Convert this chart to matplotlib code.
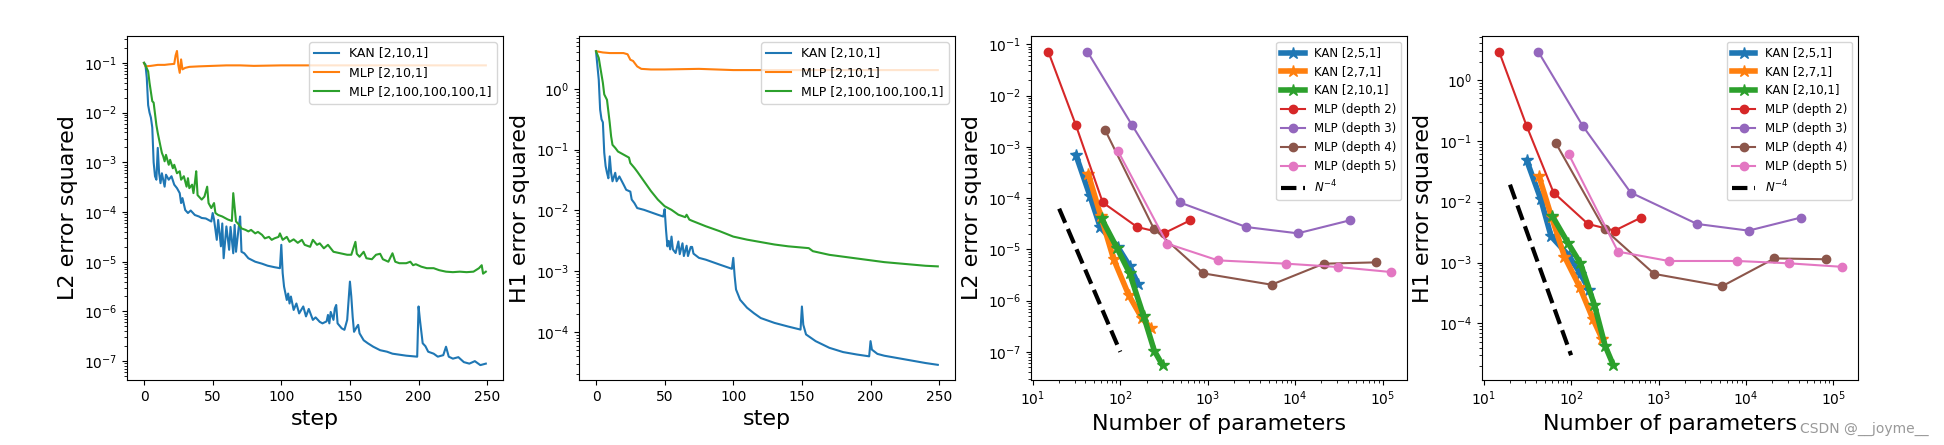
import numpy as np
import matplotlib
matplotlib.use("Agg")
import matplotlib.pyplot as plt

# ---- panel 1: L2 error vs step (values read as log10) ----
kan_l2_steps = [0, 1, 2, 3, 4, 5, 6, 7, 8, 9, 10, 11, 12, 13, 15, 16, 18, 20, 22, 24, 26, 27, 28, 30,
                32, 34, 37, 40, 42, 45, 47, 49, 50, 51, 53, 54, 56, 57, 58, 60, 62, 63, 65, 66, 67, 69,
                70, 71, 73, 76, 81, 86, 90, 95, 99, 100, 101, 102, 104, 105, 106, 107, 109, 111, 113,
                116, 118, 120, 123, 125, 128, 130, 133, 134, 135, 136, 138, 139, 140, 141, 144, 146,
                148, 150, 151, 152, 153, 155, 156, 157, 160, 163, 167, 172, 177, 181, 186, 191, 195,
                199, 200, 201, 203, 205, 207, 211, 214, 218, 220, 222, 225, 229, 233, 237, 241, 245, 249]
kan_l2_log = [-1.0, -1.03, -1.3, -1.85, -2.0, -2.1, -2.3, -3.0, -3.28, -3.35, -2.71, -3.22, -3.42, -3.22,
              -3.49, -3.25, -3.35, -3.28, -3.45, -3.52, -3.62, -3.82, -3.72, -3.96, -4.02, -3.97, -4.06,
              -4.09, -4.12, -4.13, -4.16, -4.19, -4.02, -4.15, -4.56, -4.16, -4.69, -4.23, -4.93, -4.29,
              -4.76, -4.3, -4.83, -4.26, -4.8, -4.3, -4.09, -4.8, -4.83, -4.93, -5.0, -5.04, -5.08,
              -5.11, -5.13, -4.66, -5.23, -5.5, -5.77, -5.64, -5.84, -5.7, -5.97, -5.84, -6.04, -5.9,
              -6.1, -5.95, -6.17, -6.12, -6.21, -6.24, -6.2, -6.07, -6.24, -6.01, -6.17, -5.94, -5.87,
              -6.24, -6.34, -6.37, -6.17, -5.40, -5.7, -6.11, -6.41, -6.31, -6.27, -6.44, -6.58, -6.64,
              -6.71, -6.78, -6.81, -6.85, -6.87, -6.89, -6.9, -6.91, -5.9, -6.17, -6.64, -6.7, -6.81,
              -6.85, -6.91, -6.88, -6.71, -6.91, -6.95, -6.92, -7.02, -7.05, -7.0, -7.08, -7.05]

mlp_small_l2_steps = [0, 1, 5, 10, 15, 18, 22, 23, 24, 25, 26, 27, 28, 30, 33, 40, 50, 60, 70, 80,
                      100, 125, 150, 175, 200, 225, 249]
mlp_small_l2_log = [-1.0, -1.07, -1.06, -1.04, -1.04, -1.03, -1.02, -0.85, -0.76, -1.05, -1.2, -0.93,
                    -1.13, -1.1, -1.08, -1.07, -1.06, -1.05, -1.05, -1.06, -1.05, -1.05, -1.05, -1.05,
                    -1.05, -1.05, -1.05]

mlp_big_l2_steps = [0, 1, 3, 4, 6, 7, 9, 10, 12, 13, 14, 15, 16, 18, 19, 21, 22, 24, 26, 27, 29, 31,
                    32, 33, 35, 36, 37, 38, 39, 40, 42, 44, 46, 47, 49, 51, 52, 54, 57, 59, 61, 64, 65,
                    67, 69, 71, 74, 76, 78, 81, 83, 86, 88, 91, 93, 95, 98, 99, 101, 104, 106, 109,
                    112, 115, 117, 121, 123, 126, 128, 131, 134, 138, 143, 148, 151, 154, 155, 157,
                    160, 162, 166, 169, 172, 174, 178, 181, 183, 186, 191, 194, 196, 198, 202, 206,
                    211, 215, 220, 225, 230, 235, 240, 244, 246, 247, 249]
mlp_big_l2_log = [-1.0, -1.05, -1.17, -1.4, -1.77, -1.8, -2.25, -2.41, -2.68, -2.81, -2.88, -2.98,
                  -2.85, -3.05, -2.95, -3.12, -3.05, -3.22, -3.18, -3.35, -3.28, -3.49, -3.32, -3.52,
                  -3.45, -3.62, -3.42, -3.18, -3.66, -3.69, -3.75, -3.69, -3.49, -3.82, -3.92, -3.82,
                  -4.02, -4.06, -4.09, -4.12, -4.15, -4.18, -3.62, -4.19, -4.25, -4.33, -4.36, -4.39,
                  -4.36, -4.43, -4.4, -4.46, -4.53, -4.5, -4.56, -4.53, -4.5, -4.43, -4.56, -4.5,
                  -4.6, -4.55, -4.62, -4.56, -4.66, -4.7, -4.56, -4.66, -4.63, -4.73, -4.66, -4.8,
                  -4.83, -4.86, -4.86, -4.6, -4.84, -4.9, -4.8, -4.93, -4.95, -4.86, -4.84, -4.95,
                  -5.0, -4.83, -5.0, -5.03, -5.03, -5.0, -5.07, -5.05, -5.1, -5.13, -5.13, -5.17,
                  -5.2, -5.21, -5.2, -5.21, -5.2, -5.13, -5.07, -5.24, -5.2]

# ---- panel 2: H1 error vs step (log10) ----
kan_h1_steps = [0, 2, 3, 4, 5, 6, 7, 8, 9, 10, 11, 12, 14, 15, 17, 20, 22, 25, 26, 28, 30, 35, 40,
                45, 49, 50, 51, 52, 53, 54, 55, 56, 58, 60, 61, 63, 64, 66, 67, 69, 70, 71, 75, 80,
                90, 99, 100, 101, 102, 105, 110, 115, 120, 130, 140, 149, 150, 151, 153, 160, 170,
                180, 190, 199, 200, 201, 205, 210, 220, 230, 240, 249]
kan_h1_log = [0.62, 0.15, -0.34, -0.5, -0.55, -1.05, -1.27, -1.38, -1.47, -1.11, -1.38, -1.52, -1.38,
              -1.52, -1.44, -1.57, -1.66, -1.69, -1.82, -1.88, -1.96, -1.99, -2.03, -2.07, -2.10,
              -1.98, -2.32, -2.59, -2.5, -2.64, -2.43, -2.64, -2.70, -2.51, -2.72, -2.54, -2.75,
              -2.58, -2.75, -2.6, -2.6, -2.71, -2.78, -2.81, -2.89, -2.96, -2.78, -3.08, -3.3,
              -3.47, -3.6, -3.69, -3.77, -3.85, -3.91, -3.96, -3.58, -3.88, -4.04, -4.15, -4.26,
              -4.33, -4.37, -4.4, -4.15, -4.29, -4.36, -4.39, -4.43, -4.47, -4.51, -4.54]

mlp_small_h1_steps = [0, 5, 10, 20, 23, 25, 27, 30, 33, 40, 50, 75, 100, 150, 200, 249]
mlp_small_h1_log = [0.62, 0.6, 0.59, 0.59, 0.57, 0.48, 0.46, 0.37, 0.33, 0.32, 0.32, 0.33, 0.31,
                    0.31, 0.31, 0.31]

mlp_big_h1_steps = [0, 2, 3, 5, 6, 8, 9, 10, 11, 12, 14, 16, 20, 24, 25, 28, 30, 35, 40, 45, 50, 55,
                    60, 65, 66, 68, 70, 80, 90, 100, 110, 120, 130, 140, 150, 155, 158, 160, 170,
                    180, 190, 200, 210, 220, 230, 240, 249]
mlp_big_h1_log = [0.62, 0.51, 0.37, 0.10, -0.09, -0.18, -0.37, -0.56, -0.78, -0.92, -0.97, -1.03,
                  -1.08, -1.13, -1.22, -1.30, -1.36, -1.52, -1.68, -1.82, -1.93, -1.99, -2.07, -2.11,
                  -2.07, -2.15, -2.17, -2.26, -2.34, -2.43, -2.48, -2.52, -2.56, -2.59, -2.61, -2.62,
                  -2.67, -2.68, -2.73, -2.76, -2.79, -2.82, -2.85, -2.87, -2.89, -2.91, -2.92]

# ---- panels 3 & 4: error vs number of parameters ----
kan_labels = ["KAN [2,5,1]", "KAN [2,7,1]", "KAN [2,10,1]"]
kan_params = [[31, 45, 59, 94, 128, 160],
              [43, 60, 84, 125, 177, 226],
              [61, 92, 128, 185, 245, 304]]
kan_l2 = [[7.0e-4, 1.1e-4, 2.7e-5, 1.1e-5, 4.7e-6, 2.1e-6],
          [2.95e-4, 4.4e-5, 6.4e-6, 1.28e-6, 4.5e-7, 2.86e-7],
          [4.0e-5, 1.05e-5, 3.4e-6, 5.0e-7, 1.05e-7, 5.5e-8]]
kan_h1 = [[4.8e-2, 1.1e-2, 2.7e-3, 1.3e-3, 6.5e-4, 3.6e-4],
          [2.6e-2, 5.5e-3, 1.25e-3, 4.0e-4, 1.2e-4, 5.6e-5],
          [5.8e-3, 2.1e-3, 9.7e-4, 2.0e-4, 4.3e-5, 2.06e-5]]

mlp_labels = ["MLP (depth 2)", "MLP (depth 3)", "MLP (depth 4)", "MLP (depth 5)"]
mlp_params = [[15, 31, 63, 156, 315, 630],
              [42, 136, 480, 2760, 10700, 42100],
              [67, 242, 893, 5370, 21200, 83200],
              [94, 344, 1310, 7960, 31200, 125600]]
mlp_l2 = [[0.072, 2.66e-3, 8.2e-5, 2.72e-5, 2.05e-5, 3.67e-5],
          [0.072, 2.66e-3, 8.2e-5, 2.72e-5, 2.05e-5, 3.67e-5],
          [2.13e-3, 2.52e-5, 3.39e-6, 2.04e-6, 5.24e-6, 5.56e-6],
          [8.28e-4, 1.29e-5, 6.08e-6, 5.24e-6, 4.51e-6, 3.6e-6]]
mlp_h1 = [[2.92, 0.175, 0.0141, 4.3e-3, 3.34e-3, 5.46e-3],
          [2.92, 0.175, 0.0141, 4.3e-3, 3.34e-3, 5.46e-3],
          [0.091, 3.5e-3, 6.5e-4, 4.1e-4, 1.17e-3, 1.13e-3],
          [0.060, 1.51e-3, 1.06e-3, 1.06e-3, 9.7e-4, 8.5e-4]]

ref_x = [20, 100]
ref_l2 = [6.2e-5, 1.0e-7]
ref_h1 = [1.9e-2, 3.0e-5]

TICK = 10
LAB = 16

fig = plt.figure(figsize=(19.44, 4.45), dpi=100)
bottom, height, width = 0.146, 0.773, 0.1934
ax1 = fig.add_axes([0.0653, bottom, width, height])
ax2 = fig.add_axes([0.2978, bottom, width, height])
ax3 = fig.add_axes([0.5304, bottom, width, height])
ax4 = fig.add_axes([0.7623, bottom, width, height])

# step curves
for ax, kx, ky, sx, sy, bx, by, ylab in [
        (ax1, kan_l2_steps, kan_l2_log, mlp_small_l2_steps, mlp_small_l2_log,
         mlp_big_l2_steps, mlp_big_l2_log, "L2 error squared"),
        (ax2, kan_h1_steps, kan_h1_log, mlp_small_h1_steps, mlp_small_h1_log,
         mlp_big_h1_steps, mlp_big_h1_log, "H1 error squared")]:
    ax.plot(kx, 10 ** np.array(ky), color="C0", lw=1.5, label="KAN [2,10,1]")
    ax.plot(sx, 10 ** np.array(sy), color="C1", lw=1.5, label="MLP [2,10,1]")
    ax.plot(bx, 10 ** np.array(by), color="C2", lw=1.5, label="MLP [2,100,100,100,1]")
    ax.set_yscale("log")
    ax.set_xlabel("step", fontsize=LAB)
    ax.set_ylabel(ylab, fontsize=LAB)
    ax.set_xticks([0, 50, 100, 150, 200, 250])
    ax.tick_params(labelsize=TICK)
    ax.legend(loc="upper right", fontsize=9)

ax1.set_ylim(10 ** -7.38, 10 ** -0.46)
ax2.set_ylim(10 ** -4.79, 10 ** 0.87)

# scaling curves
for ax, kan_err, mlp_err, ref_y, ylab in [(ax3, kan_l2, mlp_l2, ref_l2, "L2 error squared"),
                                          (ax4, kan_h1, mlp_h1, ref_h1, "H1 error squared")]:
    for i in range(3):
        ax.plot(kan_params[i], kan_err[i], color="C%d" % i, marker="*", markersize=9,
                lw=4, label=kan_labels[i])
    for i in range(4):
        ax.plot(mlp_params[i], mlp_err[i], color="C%d" % (i + 3), marker="o", markersize=6,
                lw=1.5, label=mlp_labels[i])
    ax.plot(ref_x, ref_y, color="black", ls="--", lw=3, label="$N^{-4}$")
    ax.set_xscale("log")
    ax.set_yscale("log")
    ax.set_xlabel("Number of parameters", fontsize=LAB)
    ax.set_ylabel(ylab, fontsize=LAB)
    ax.set_xticks([10, 100, 1000, 10000, 100000])
    ax.tick_params(labelsize=TICK)
    ax.legend(loc="upper right", fontsize=8.5)

ax3.set_xlim(10 ** 0.98, 10 ** 5.28)
ax4.set_xlim(10 ** 0.98, 10 ** 5.28)
ax3.set_ylim(10 ** -7.55, 10 ** -0.84)
ax4.set_ylim(10 ** -4.93, 10 ** 0.72)

fig.text(0.992, 0.02, "CSDN @__joyme__", ha="right", va="bottom", fontsize=10, color="#999999")

fig.savefig("out.png", dpi=100)
